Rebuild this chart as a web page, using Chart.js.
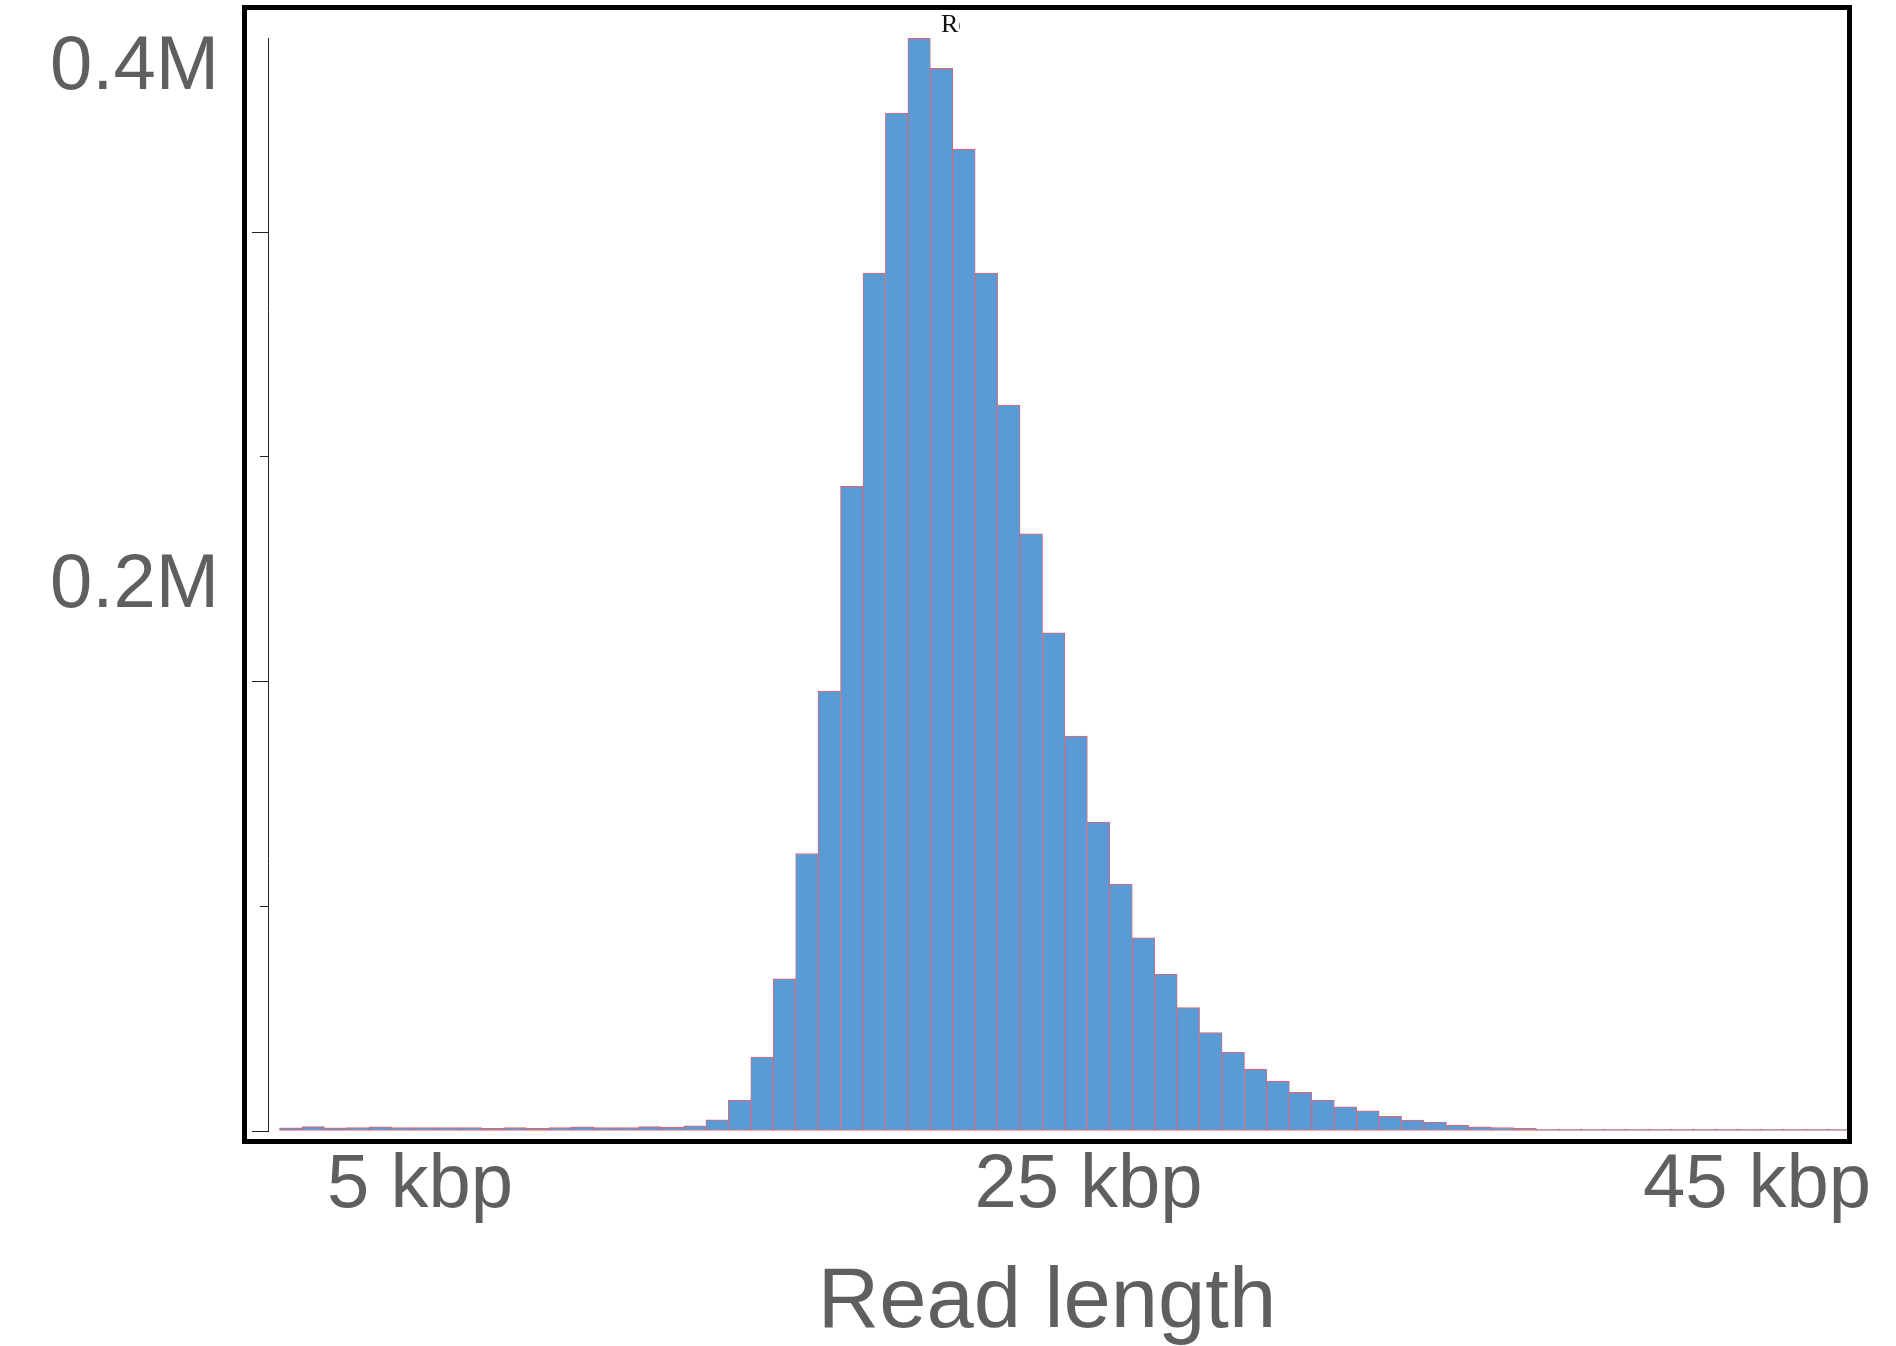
<!DOCTYPE html>
<html>
<head>
<meta charset="utf-8">
<title>Read length</title>
<script src="https://cdn.jsdelivr.net/npm/chart.js@4.4.1/dist/chart.umd.min.js"></script>
<style>
  html, body { margin: 0; padding: 0; background: #fff; }
  canvas { display: block; }
</style>
</head>
<body>
<canvas id="readChart" width="1896" height="1346"></canvas>
<script>
// Histogram bins: centre of each bin in kbp
const BIN_CENTERS = [
  1.132, 1.804, 2.475, 3.147, 3.818, 4.489, 5.161, 5.832, 6.504, 7.175,
  7.846, 8.518, 9.189, 9.861, 10.532, 11.203, 11.875, 12.546, 13.218, 13.889,
  14.560, 15.232, 15.903, 16.575, 17.246, 17.917, 18.589, 19.260, 19.932, 20.603,
  21.274, 21.946, 22.617, 23.289, 23.960, 24.631, 25.303, 25.974, 26.646, 27.317,
  27.988, 28.660, 29.331, 30.003, 30.674, 31.345, 32.017, 32.688, 33.360, 34.031,
  34.702, 35.374, 36.045, 36.717, 37.388, 38.059, 38.731, 39.402, 40.074, 40.745,
  41.416, 42.088, 42.759, 43.431, 44.102, 44.773, 45.445, 46.116, 46.788, 47.459
];

// Number of reads in each bin
const READ_COUNTS = [
  1150, 1660, 1150, 1280, 1530, 1280, 1280, 1280, 1280, 1020,
  1280, 1020, 1280, 1530, 1280, 1280, 1660, 1400, 1910, 4160,
  11630, 27760, 57090, 104090, 165040, 241800, 321800, 381850, 409900, 398600,
  368200, 321800, 272300, 224000, 186900, 148100, 115900, 92600, 72500, 58900,
  46300, 36900, 29600, 23100, 18600, 14500, 11600, 9100, 7600, 5500,
  4100, 3300, 2100, 1600, 1300, 1000, 500, 400, 450, 350,
  120, 90, 80, 60, 50, 40, 40, 30, 20, 20
];

// Axes
const X_MIN = 0.4525;
const X_MAX = 47.693;
const X_TICKS = [5, 25, 45];
const X_TITLE = 'Read length';
const Y_MAX = 410000;
const Y_MARKS = [0, 84300, 168600, 252900, 337200];
const Y_LABELS = [200000, 400000];
// the value labels sit on their own, slightly shifted, axis
const LABEL_MIN = -10230;
const LABEL_MAX = 411780;
const CAPTION = 'Read length distribution';

const SANS = "'Liberation Sans', Arial, Helvetica, sans-serif";
const GREY = '#5f5f5f';
const AXIS = '#222';

// black box round the plot, the axis title centred under the box,
// and the clipped caption at the top
const framePlugin = {
    id: 'frame',
    afterDraw(chart) {
        const { ctx, chartArea: a } = chart;
        const boxLeft = a.left - 23.5;
        const boxRight = a.right + 2.5;
        ctx.save();
        ctx.strokeStyle = '#000';
        ctx.lineWidth = 5;
        ctx.strokeRect(boxLeft, a.top - 30.5, boxRight - boxLeft, a.bottom - a.top + 41);

        ctx.fillStyle = GREY;
        ctx.font = '85px ' + SANS;
        ctx.textAlign = 'center';
        ctx.textBaseline = 'alphabetic';
        ctx.fillText(X_TITLE, (boxLeft + boxRight) / 2, chart.height - 19);

        ctx.beginPath();
        ctx.rect(a.left, 0, 692, a.top);
        ctx.clip();
        ctx.fillStyle = '#111';
        ctx.textAlign = 'left';
        ctx.font = "26px 'Liberation Serif', 'Times New Roman', serif";
        ctx.fillText(CAPTION, a.left + 673, 32);
        ctx.restore();
    }
};

const ctx = document.getElementById('readChart').getContext('2d');
new Chart(ctx, {
    type: 'bar',
    data: {
        datasets: [{
            label: 'Reads',
            data: BIN_CENTERS.map((x, i) => ({ x: x, y: READ_COUNTS[i] })),
            backgroundColor: '#5b9bd5',
            borderColor: '#e95f6b',
            borderWidth: { top: 1, left: 0.8, right: 0.8, bottom: 1 },
            borderSkipped: false,
            barPercentage: 1,
            categoryPercentage: 1,
            minBarLength: 2,
            clip: 0
        }]
    },
    options: {
        responsive: false,
        animation: false,
        events: [],
        layout: { padding: { left: 50, right: 49, top: 38, bottom: 0 } },
        plugins: {
            legend: { display: false },
            title: { display: false },
            tooltip: { enabled: false }
        },
        scales: {
            x: {
                type: 'linear',
                offset: false,
                min: X_MIN,
                max: X_MAX,
                afterBuildTicks: (s) => { s.ticks = X_TICKS.map(v => ({ value: v })); },
                afterFit: (s) => { s.height = 215; },
                grid: { display: false, drawTicks: false },
                border: { display: false },
                ticks: {
                    autoSkip: false,
                    maxRotation: 0,
                    minRotation: 0,
                    padding: 9,
                    color: GREY,
                    font: { family: SANS, size: 76 },
                    callback: (v) => v + ' kbp'
                },
                title: { display: false }
            },
            y: {
                type: 'linear',
                position: 'left',
                weight: 0,
                min: 0,
                max: Y_MAX,
                afterBuildTicks: (s) => { s.ticks = Y_MARKS.map(v => ({ value: v })); },
                afterFit: (s) => { s.width = 16; },
                grid: {
                    drawOnChartArea: false,
                    drawTicks: true,
                    tickLength: 16,
                    tickColor: AXIS,
                    tickWidth: 1,
                    tickBorderDash: (c) => (c.index % 2 ? [8, 8] : []),
                    tickBorderDashOffset: (c) => (c.index % 2 ? 8 : 0)
                },
                border: { display: true, color: AXIS, width: 1 },
                ticks: { display: false }
            },
            yLabels: {
                type: 'linear',
                position: 'left',
                weight: 1,
                min: LABEL_MIN,
                max: LABEL_MAX,
                afterBuildTicks: (s) => { s.ticks = Y_LABELS.map(v => ({ value: v })); },
                afterFit: (s) => { s.width = 202; },
                grid: { display: false, drawTicks: false },
                border: { display: false },
                ticks: {
                    padding: 33,
                    color: GREY,
                    font: { family: SANS, size: 76, lineHeight: 0.01 },
                    callback: (v) => (v / 1e6) + 'M'
                }
            }
        }
    },
    plugins: [framePlugin]
});
</script>
</body>
</html>
